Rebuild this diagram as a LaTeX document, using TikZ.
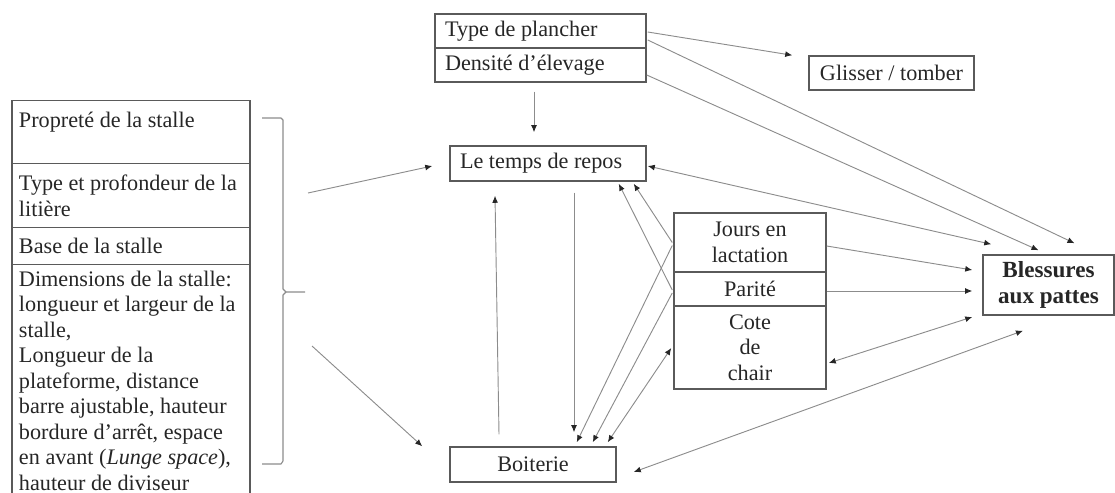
\documentclass[tikz,border=0pt]{standalone}
\usepackage{fontspec}
\setmainfont{Liberation Serif}
\usetikzlibrary{calc,arrows.meta,positioning}
\definecolor{boxline}{HTML}{5a5a5a}
\definecolor{linkline}{HTML}{8c8c8c}
\definecolor{inktext}{HTML}{262626}
\newcommand{\pxu}{0.19mm}

\begin{document}
\begin{tikzpicture}[
    x=\pxu, y=-\pxu,
    >={Latex[length=3.8pt,width=3.2pt,color=inktext]},
    font=\fontsize{12}{13.8}\selectfont,
    box/.style={draw=boxline, line width=0.8pt, inner sep=0pt, text=inktext, align=flush center},
    leftbox/.style={box, align=flush left, inner xsep=10*\pxu},
    stallrow/.style={box, align=flush left, inner xsep=7*\pxu, text width=224*\pxu, minimum width=238*\pxu, anchor=north},
    link/.style={->, draw=linkline, line width=0.5pt},
    duo/.style={<->, draw=linkline, line width=0.5pt},
    brace/.style={draw=linkline, line width=0.6pt, line join=round},
]

\clip (0,0) rectangle (1115,493);

% ── Stall factors (left column) ──
\node[stallrow, minimum height=63*\pxu] (propre) at (131,100) {Propreté de la stalle\\\mbox{}};
\node[stallrow, minimum height=64*\pxu] (litiere) at (131,163) {Type et profondeur de la\\litière};
\node[stallrow, minimum height=37*\pxu] (base) at (131,227) {Base de la stalle};
\node[stallrow, minimum height=232*\pxu] (dims) at (131,264) {Dimensions de la stalle:\\longueur et largeur de la\\stalle,\\Longueur de la\\plateforme, distance\\barre ajustable, hauteur\\bordure d'arrêt, espace\\en avant (\textit{Lunge space}),\\hauteur de diviseur};

\draw[brace] (262,118) -- (281,118) -- (283,120) -- (283,289) -- (286,292) -- (305,292);
\draw[brace] (286,292) -- (283,295) -- (283,461) -- (281,464) -- (262,464);
\coordinate (stallA) at (308,193);
\coordinate (stallB) at (312,346);

% ── Housing and outcomes ──
\node[leftbox, text width=191*\pxu, minimum height=34*\pxu] (plancher) at (540.5,31) {Type de plancher};
\node[leftbox, text width=191*\pxu, minimum height=34*\pxu] (densite) at (540.5,65) {Densité d’élevage};
\node[box, minimum width=165*\pxu, minimum height=34*\pxu] (glisser) at (891.5,73) {Glisser / tomber};
\node[leftbox, text width=176*\pxu, minimum height=35*\pxu] (repos) at (548,163.5) {Le temps de repos};
\node[box, minimum width=166*\pxu, minimum height=35*\pxu] (boiterie) at (533,464.5) {Boiterie};

% ── Cow factors ──
\node[box, minimum width=152*\pxu, minimum height=59*\pxu] (jours) at (750,242.5) {Jours en\\lactation};
\node[box, minimum width=152*\pxu, minimum height=34*\pxu] (parite) at (750,289) {Parité};
\node[box, minimum width=152*\pxu, minimum height=83*\pxu] (cote) at (750,347.5) {Cote\\de\\chair};
\node[box, minimum width=131*\pxu, minimum height=60*\pxu, font=\fontsize{12.5}{14}\selectfont\bfseries] (blessures) at (1048.5,285) {Blessures\\aux pattes};

% ── Links ──
\draw[link] ($(plancher.east)+(1,1)$) -- ($(glisser.north west)+(-16,0)$);
\draw[link] ($(plancher.east)+(1,9)$) -- ($(blessures.north)+(26,-11)$);
\draw[link] ($(densite.east)+(0,10)$) -- ($(blessures.north)+(-10,-4)$);
\draw[link] ($(densite.south)+(-6.5,9)$) -- ($(repos.north)+(-14,-13)$);
\draw[link] (stallA) -- ($(repos.west)+(-17,2.5)$);
\draw[link] (stallB) -- ($(boiterie.north west)+(-27,0)$);
\draw[link] ($(boiterie.north)+(-34,-12)$) -- ($(repos.south)+(-53,14)$);
\draw[link] ($(repos.south)+(26,11)$) -- ($(boiterie.north)+(41,-14)$);
\draw[duo] ($(repos.east)+(1,2.5)$) -- ($(blessures.north west)+(9,-10)$);
\draw[link] ($(jours.west)+(-1,0)$) -- ($(repos.south east)+(-13,2)$);
\draw[link] ($(parite.west)+(-1,1)$) -- ($(repos.south east)+(-28,2)$);
\draw[link] ($(jours.west)+(-1,3)$) -- ($(boiterie.north east)+(-40,-4)$);
\draw[link] ($(parite.west)+(-1,4)$) -- ($(boiterie.north east)+(-24,-4)$);
\draw[duo] ($(cote.west)+(-2,0.5)$) -- ($(boiterie.north east)+(-9,-4)$);
\draw[link] ($(jours.east)+(0,3.5)$) -- ($(blessures.west)+(-10,-15)$);
\draw[link] ($(parite.east)+(0,2)$) -- ($(blessures.west)+(-10,6)$);
\draw[duo] ($(blessures.west)+(-10,32)$) -- ($(cote.east)+(2,15.5)$);
\draw[duo] ($(blessures.south)+(-25.5,15)$) -- ($(boiterie.east)+(17,7.5)$);

\end{tikzpicture}
\end{document}
